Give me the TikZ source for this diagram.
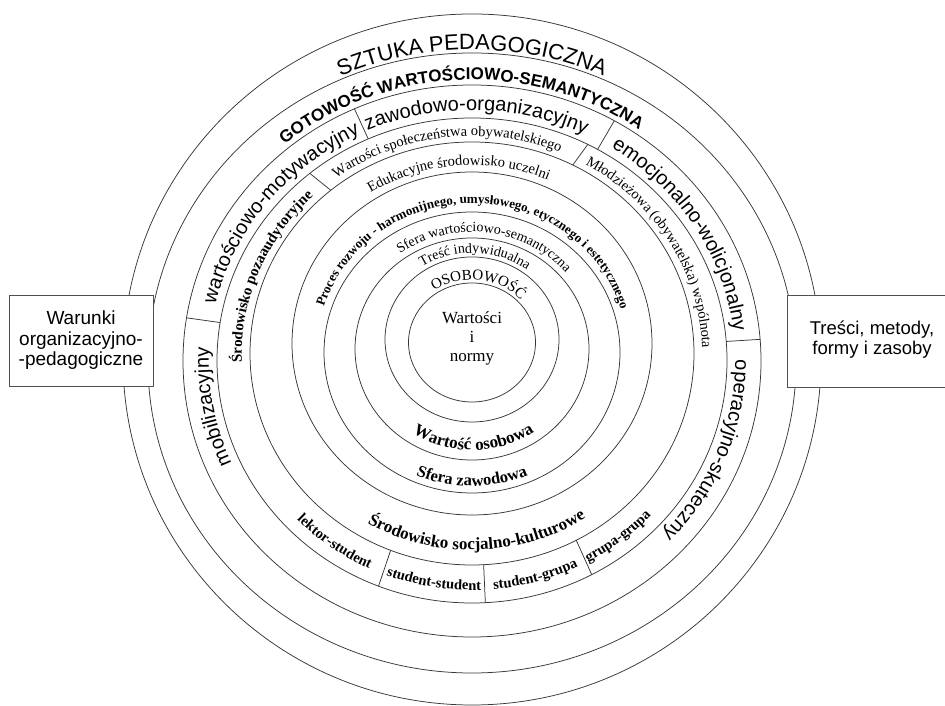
\documentclass[tikz,border=0pt]{standalone}
\usepackage{fontspec}
\setmainfont{Liberation Serif}
\newfontfamily\arialfam{Liberation Sans}
\usetikzlibrary{decorations.text}

% fonts of the rings
\newcommand\fSztuka{\arialfam\fontsize{22}{26}\selectfont}
\newcommand\fGotow{\arialfam\bfseries\fontsize{17}{20}\selectfont}
\newcommand\fAspekt{\arialfam\fontsize{20}{24}\selectfont}
\newcommand\fSerA{\fontsize{14.5}{17}\selectfont}
\newcommand\fSerAB{\bfseries\fontsize{15}{18}\selectfont}
\newcommand\fSerBB{\bfseries\fontsize{14.5}{17}\selectfont}
\newcommand\fSerC{\bfseries\fontsize{17}{20}\selectfont}
\newcommand\fSerCC{\bfseries\fontsize{16.5}{19}\selectfont}
\newcommand\fSerD{\bfseries\fontsize{13}{16}\selectfont}
\newcommand\fSerE{\fontsize{14}{16}\selectfont}
\newcommand\fSerF{\fontsize{14}{16}\selectfont}
\newcommand\fSerG{\fontsize{15}{18}\selectfont}

\tikzset{
  ring/.style={draw={rgb, 255:red, 55; green, 55; blue, 55 }, line width=0.75},
  divider/.style={draw={rgb, 255:red, 55; green, 55; blue, 55 }, line width=0.75},
  boxframe/.style={draw={rgb, 255:red, 80; green, 80; blue, 80 }, line width=1},
  along/.style={decorate, decoration={text along path, text align=center, text={#1}}},
}

\begin{document}
\begin{tikzpicture}[x=1pt,y=1pt]
\useasboundingbox (0,0) rectangle (945,706);
\fill[white] (0,0) rectangle (945,706);

% centres of the rings
\coordinate (cA) at (472,346.5);
\coordinate (cB) at (472,343);
\coordinate (cC) at (472,345);
\coordinate (cD) at (472,345.5);
\coordinate (cE) at (472,352.5);
\coordinate (cF) at (472,362.5);
\coordinate (cG) at (472,353.5);
\coordinate (cH) at (472,357);
\coordinate (cI) at (472,366.5);
\coordinate (cJ) at (472,363.5);

%Shape: Ellipses
\draw[ring] (cA) ellipse [x radius=349, y radius=345.5];
\draw[ring] (cB) ellipse [x radius=324, y radius=310];
\draw[ring] (cC) ellipse [x radius=289, y radius=276];
\draw[ring] (cD) ellipse [x radius=255, y radius=242.5];
\draw[ring] (cE) ellipse [x radius=222, y radius=211.5];
\draw[ring] (cF) ellipse [x radius=180, y radius=171.5];
\draw[ring] (cG) ellipse [x radius=148, y radius=140.5];
\draw[ring] (cH) ellipse [x radius=117, y radius=111];
\draw[ring] (cI) ellipse [x radius=87, y radius=82.5];
\draw[ring] (cJ) ellipse [x radius=63.5, y radius=59.5];

%Straight Lines: dividers between C and D
\foreach \a in {114,60.5,4.5,171}
  \draw[divider] ([shift={(\a:255 and 242.5)}]cD) -- ([shift={(\a:289 and 276)}]cC);
%Straight Lines: dividers between D and E
\foreach \a in {129.5,63,248.5,273,298}
  \draw[divider] ([shift={(\a:222 and 211.5)}]cE) -- ([shift={(\a:255 and 242.5)}]cD);

% Text on ring A-B
\path[along={|\fSztuka|SZTUKA PEDAGOGICZNA}] (472,343.3) ++(140:326 and 313) arc[start angle=140, end angle=40, x radius=326, y radius=313];
% Text on ring B-C
\path[along={|\fGotow|GOTOWOŚĆ WARTOŚCIOWO-SEMANTYCZNA}] (472,344.7) ++(152.5:294.6 and 281.4) arc[start angle=152.5, end angle=32.5, x radius=294.6, y radius=281.4];

% Text on ring C-D
\path[along={|\fAspekt|zawodowo-organizacyjny}] (472,345.4) ++(129:263.2 and 250.5) arc[start angle=129, end angle=49, x radius=263.2, y radius=250.5];
\path[along={|\fAspekt|wartościowo-motywacyjny}] (472,345.4) ++(186.5:263.2 and 250.5) arc[start angle=186.5, end angle=96.5, x radius=263.2, y radius=250.5];
\path[along={|\fAspekt|mobilizacyjny}] (472,345.4) ++(220:263.2 and 250.5) arc[start angle=220, end angle=161, x radius=263.2, y radius=250.5];
\path[along={|\fAspekt|emocjonalno-wolicjonalny}] (472,345.4) ++(77:263.2 and 250.5) arc[start angle=77, end angle=-13, x radius=263.2, y radius=250.5];
\path[along={|\fAspekt|operacyjno-skuteczny}] (472,345.4) ++(18.5:263.2 and 250.5) arc[start angle=18.5, end angle=-61.5, x radius=263.2, y radius=250.5];

% Text on ring D-E
\path[along={|\fSerA|Wartości społeczeństwa obywatelskiego}] (472,350.75) ++(147:230.25 and 219.25) arc[start angle=147, end angle=47, x radius=230.25, y radius=219.25];
\path[along={|\fSerAB|Środowisko pozaaudytoryjne}] (472,350.75) ++(198:230.25 and 219.25) arc[start angle=198, end angle=118, x radius=230.25, y radius=219.25];
\path[along={|\fSerA|Młodzieżowa (obywatelska) wspólnota}] (472,350.75) ++(71:230.25 and 219.25) arc[start angle=71, end angle=-9, x radius=230.25, y radius=219.25];
\path[along={|\fSerBB|lektor-student}] (472,347.9) ++(214.5:243.8 and 232) arc[start angle=214.5, end angle=254.5, x radius=243.8, y radius=232];
\path[along={|\fSerBB|student-student}] (472,347.9) ++(240.75:243.8 and 232) arc[start angle=240.75, end angle=280.75, x radius=243.8, y radius=232];
\path[along={|\fSerBB|student-grupa}] (472,347.9) ++(265.5:243.8 and 232) arc[start angle=265.5, end angle=305.5, x radius=243.8, y radius=232];
\path[along={|\fSerBB|grupa-grupa}] (472,347.9) ++(288:243.8 and 232) arc[start angle=288, end angle=328, x radius=243.8, y radius=232];

% Text on ring E-F
\path[along={|\fSerA|Edukacyjne środowisko uczelni}] (472,360.2) ++(139.4:189.7 and 180.7) arc[start angle=139.4, end angle=49.4, x radius=189.7, y radius=180.7];
\path[along={|\fSerC|Środowisko socjalno-kulturowe}] (472,355.5) ++(224.5:209.4 and 199.5) arc[start angle=224.5, end angle=318.5, x radius=209.4, y radius=199.5];

% Text on ring F-G
\path[along={|\fSerD|Proces rozwoju - harmonijnego, umysłowego, etycznego i estetycznego}] (472,355.5) ++(180:155 and 147.3) arc[start angle=180, end angle=-1, x radius=155, y radius=147.3];

% Text on ring G-H
\path[along={|\fSerE|Sfera wartościowo-semantyczna}] (472,356.2) ++(150:124.1 and 117.8) arc[start angle=150, end angle=16, x radius=124.1, y radius=117.8];
\path[along={|\fSerCC|Sfera zawodowa}] (472,354.2) ++(220:141.5 and 134.3) arc[start angle=220, end angle=320, x radius=141.5, y radius=134.3];

% Text on ring H-I
\path[along={|\fSerF|Treść indywidualna}] (472,364.5) ++(150:93.3 and 88.5) arc[start angle=150, end angle=26, x radius=93.3, y radius=88.5];
\path[along={|\fSerC|Wartość osobowa}] (472,359.5) ++(213:109.2 and 103.6) arc[start angle=213, end angle=329, x radius=109.2, y radius=103.6];

% Text on ring I-J
\path[along={|\fSerG|OSOBOWOŚĆ}] (472,363.9) ++(160:66.3 and 62.3) arc[start angle=160, end angle=7, x radius=66.3, y radius=62.3];

% Text Node
\node[align=center, font=\fontsize{17}{19}\selectfont] (core) at (472,368) {Wartości\\i\\normy};

%Shape: Rectangle
\node[fill=white, boxframe, minimum width=144, minimum height=91, inner sep=0] (lbox) at (81,364.5) {};
% Text Node
\node[align=center, font=\arialfam\fontsize{19}{20.5}\selectfont] (ltext) at (81,365.5) {Warunki\\organizacyjno-\\-pedagogiczne};

%Shape: Rectangle (open to the right)
\node[fill=white, minimum width=157, minimum height=91, inner sep=0] (rbox) at (866.5,364.5) {};
\draw[boxframe] (rbox.north east) -- (rbox.north west) -- (rbox.south west) -- (rbox.south east);
% Text Node
\node[align=center, font=\arialfam\fontsize{18.5}{20}\selectfont] (rtext) at (872,366) {Treści, metody,\\formy i zasoby};

\end{tikzpicture}
\end{document}
